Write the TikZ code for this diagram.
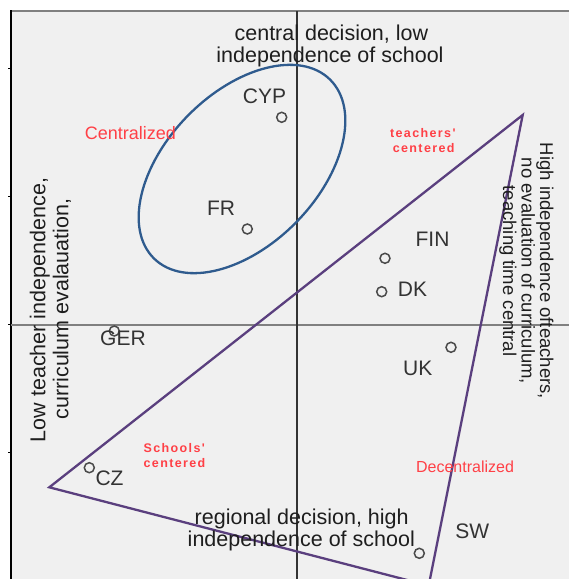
\documentclass[tikz,border=0pt]{standalone}
\usepackage{fontspec}
\setmainfont{Liberation Sans}
\newfontfamily\tagfont[LetterSpace=11]{Liberation Sans}

\definecolor{panel}{HTML}{F0F0F0}
\definecolor{framegray}{HTML}{808080}
\definecolor{axisdark}{HTML}{333333}
\definecolor{labelgray}{HTML}{333333}
\definecolor{notegray}{HTML}{1E1E1E}
\definecolor{markgray}{HTML}{4A4A4A}
\definecolor{zonered}{HTML}{FF4046}
\definecolor{ringblue}{HTML}{2F5B8E}
\definecolor{wedgepurple}{HTML}{5A3F7E}

\begin{document}
\begin{tikzpicture}[x=1pt,y=-1pt,
  country/.style={font=\fontsize{21}{24}\selectfont, text=labelgray, inner sep=0pt, anchor=base},
  marker/.style={circle, draw=markgray, line width=1.5pt, minimum size=10pt, inner sep=0pt},
  note/.style={font=\fontsize{21.5}{24}\selectfont, text=notegray, inner sep=0pt, anchor=base},
  sidenote/.style={font=\fontsize{18.5}{20}\selectfont, text=notegray, inner sep=0pt, anchor=base},
  zone/.style={text=zonered, inner sep=0pt, anchor=base},
  tag/.style={font=\tagfont\bfseries\fontsize{12.5}{14}\selectfont, text=zonered, inner sep=0pt, anchor=base},
  ring/.style={draw=ringblue, line width=2.3pt},
  wedge/.style={draw=wedgepurple, line width=2.3pt, line join=miter},
]
\useasboundingbox (0,0) rectangle (569,579);
\fill[white] (0,0) rectangle (569,579);

% plotting panel and frame
\fill[panel] (11,11) rectangle (569,579);
\draw[framegray, line width=2pt] (11,11) -- (569,11);
\draw[black, line width=1.3pt] (11,10) -- (11,579);
\foreach \ty in {68,196,324,452}
  \draw[black, line width=1pt] (8,\ty) -- (11,\ty);

% axes
\draw[framegray, line width=2pt] (11,324.5) -- (569,324.5);
\draw[axisdark, line width=1.3pt] (297,11) -- (297,579);

% centralized group
\draw[ring, rotate around={45.5:(242,169)}] (242,169) ellipse [x radius=125.5, y radius=76];

% decentralized group
\coordinate (apexR) at (522.7,115);
\coordinate (apexL) at (49.3,487.3);
\coordinate (apexB) at (428.7,585.6);
\begin{scope}
  \clip (11,11) rectangle (569,579);
  \draw[wedge] (apexR) -- (apexL) -- (apexB) -- cycle;
\end{scope}

% axis descriptions
\node[note] (topA) at (331.4,40) {central decision, low};
\node[note] (topB) at (330,62) {independence of school};
\node[note] (botA) at (301.7,524) {regional decision, high};
\node[note] (botB) at (301.3,546.7) {independence of school};
\node[note, rotate=90] (leftA) at (45.3,310) {Low teacher independence,};
\node[note, rotate=90] (leftB) at (68.3,309) {curriculum evalauation,};
\node[sidenote, rotate=-90] (rightA) at (540,271) {High independence ofteachers,};
\node[sidenote, rotate=-90] (rightB) at (521.5,271) {no evaluation of curriculum,};
\node[sidenote, rotate=-90] (rightC) at (503,271) {teaching time central};

% quadrant names
\node[zone, font=\fontsize{18}{20}\selectfont] (zCent) at (130.5,139) {Centralized};
\node[zone, font=\fontsize{16}{18}\selectfont] (zDecent) at (465,472.7) {Decentralized};
\node[tag] (zTeachA) at (422.8,137.7) {teachers'};
\node[tag] (zTeachB) at (423.7,152.5) {centered};
\node[tag] (zSchoolA) at (174.2,452.7) {Schools'};
\node[tag] (zSchoolB) at (174.5,467) {centered};

% countries
\node[marker] (pCYP) at (281.7,117.3) {};
\node[country] (lCYP) at (264.5,103.3) {CYP};
\node[marker] (pFR) at (247.3,229) {};
\node[country] (lFR) at (221,215.7) {FR};
\node[marker] (pFIN) at (385,258.3) {};
\node[country] (lFIN) at (432.5,246.7) {FIN};
\node[marker] (pDK) at (381.7,291.7) {};
\node[country] (lDK) at (412.5,296.7) {DK};
\node[marker] (pUK) at (451,347.3) {};
\node[country] (lUK) at (417.8,375) {UK};
\node[marker] (pGER) at (114.3,331) {};
\node[country] (lGER) at (123,345) {GER};
\node[marker] (pCZ) at (89.3,467.7) {};
\node[country] (lCZ) at (109.5,485) {CZ};
\node[marker] (pSW) at (419.3,553.3) {};
\node[country] (lSW) at (472.3,538.3) {SW};
\end{tikzpicture}
\end{document}
